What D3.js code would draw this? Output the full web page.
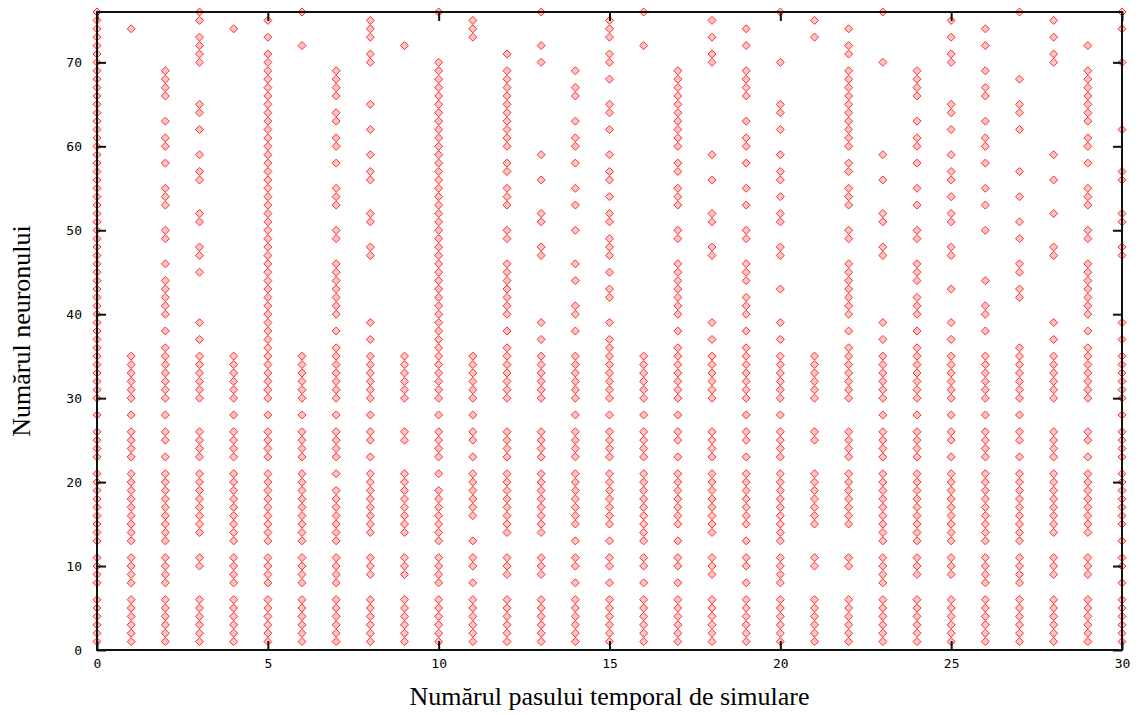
<!DOCTYPE html>
<html>
<head>
<meta charset="utf-8">
<script src="https://cdn.jsdelivr.net/npm/d3@7"></script>
<style>
  html, body { margin: 0; padding: 0; background: #ffffff; }
  svg { display: block; }
</style>
</head>
<body>
<svg id="chart" width="1139" height="715"></svg>
<script>
// ---- data: neurons that fired at each simulation time step ----
const timeSteps = [0,1,2,3,4,5,6,7,8,9,10,11,12,13,14,15,16,17,18,19,20,21,22,23,24,25,26,27,28,29,30];
const step0  = [1,2,3,4,5,6,8,9,10,11,13,14,15,16,17,18,19,20,21,23,24,25,26,28,30,31,32,33,34,35,36,37,38,39,40,41,42,43,44,45,46,47,48,49,50,51,52,53,54,55,56,57,58,59,60,61,62,63,64,65,66,67,68,69,70,71,72,73,74,75,76];
const step1  = [1,2,3,4,5,6,8,9,10,11,13,14,15,16,17,18,19,20,21,23,24,25,26,28,30,31,32,33,34,35,74];
const step2  = [1,2,3,4,5,6,8,9,10,11,13,14,15,16,17,18,19,20,21,23,25,26,28,30,31,32,33,34,35,36,38,40,41,42,43,44,46,49,50,53,54,55,58,60,61,63,66,67,68,69];
const step3  = [1,2,3,4,5,6,10,11,14,15,16,17,18,19,20,21,23,24,25,26,30,31,32,33,34,35,37,39,45,47,48,51,52,56,57,59,62,64,65,70,71,72,73,75,76];
const step4  = [1,2,3,4,5,6,8,9,10,11,13,14,15,16,17,18,19,20,21,23,24,25,26,28,30,31,32,33,34,35,74];
const step5  = [1,2,3,4,5,6,8,9,10,11,13,14,15,16,17,18,19,20,21,23,24,25,26,28,30,31,32,33,34,35,36,37,38,39,40,41,42,43,44,45,46,47,48,49,50,51,52,53,54,55,56,57,58,59,60,61,62,63,64,65,66,67,68,69,70,71,73,75];
const step6  = [1,2,3,4,5,6,8,9,10,11,13,14,15,16,17,18,19,20,21,23,24,25,26,28,30,31,32,33,34,35,72,76];
const step7  = [1,2,3,4,5,6,8,9,10,11,13,14,15,16,17,18,19,21,23,24,25,26,28,30,31,32,33,34,35,36,38,40,41,42,43,44,45,46,49,50,53,54,55,58,60,61,63,64,66,67,68,69];
const step8  = [1,2,3,4,5,6,9,10,11,14,15,16,17,18,19,20,21,23,25,26,28,30,31,32,33,34,35,37,39,47,48,51,52,56,57,59,62,65,70,71,73,74,75];
const step9  = [1,2,3,4,5,6,9,10,11,14,15,16,17,18,19,20,21,25,26,30,31,32,33,34,35,72];
const step10 = [1,2,3,4,5,6,8,9,10,11,13,14,15,16,17,18,19,21,23,24,25,26,28,30,31,32,33,34,35,36,37,38,39,40,41,42,43,44,45,46,47,48,49,50,51,52,53,54,55,56,57,58,59,60,61,62,63,64,65,66,67,68,69,70,76];
const step11 = [1,2,3,4,5,6,8,10,11,13,16,17,18,19,20,21,23,25,26,28,30,31,32,33,34,35,73,74,75];
const step12 = [1,2,3,4,5,6,9,10,11,14,15,16,17,18,19,20,21,23,24,25,26,30,31,32,33,34,35,36,38,40,41,42,43,44,45,46,49,50,53,54,55,57,58,60,61,62,63,64,65,66,67,68,69,71];
const step13 = [1,2,3,4,5,6,9,10,11,14,15,16,17,18,19,20,21,23,24,25,26,30,31,32,33,34,35,37,39,47,48,51,52,56,59,70,72,76];
const step14 = [1,2,3,4,5,6,8,10,11,13,15,16,17,18,19,20,21,23,24,25,26,28,30,31,32,33,34,35,38,40,41,44,46,50,53,55,58,60,61,63,66,67,69];
const step15 = [1,2,3,4,5,6,8,10,11,13,15,16,17,18,19,20,21,23,24,25,26,28,30,31,32,33,34,35,36,37,39,42,43,45,47,48,49,51,52,54,56,57,59,62,64,65,68,70,71,73,74,75];
const step16 = [1,2,3,4,5,6,8,10,11,13,14,15,16,17,18,19,20,21,23,24,25,26,28,30,31,32,33,34,35,72,76];
const step17 = [1,2,3,4,5,6,8,10,11,13,15,16,17,18,19,20,21,23,25,26,28,30,31,32,33,34,35,36,38,40,41,42,43,44,45,46,49,50,53,54,55,57,58,60,61,62,63,64,65,66,67,68,69];
const step18 = [1,2,3,4,5,6,9,10,11,14,15,16,17,18,19,20,21,23,24,25,26,30,31,32,33,34,35,37,39,47,48,51,52,56,59,70,71,73,75];
const step19 = [1,2,3,4,5,6,8,10,11,13,15,16,17,18,19,20,21,23,25,26,28,30,31,32,33,34,35,36,38,40,41,42,44,45,46,49,50,53,55,58,60,61,63,66,67,68,69,72,74];
const step20 = [1,2,3,4,5,6,8,9,10,11,13,14,15,16,17,18,19,20,21,23,24,25,26,28,30,31,32,33,34,35,37,39,43,47,48,51,52,54,56,57,59,62,64,65,70,76];
const step21 = [1,2,3,4,5,6,10,11,15,16,17,18,19,20,21,25,26,30,31,32,33,34,35,73,75];
const step22 = [1,2,3,4,5,6,10,11,15,16,17,18,19,20,21,23,24,25,26,30,31,32,33,34,35,36,38,40,41,42,43,44,45,46,49,50,53,54,55,57,58,60,61,62,63,64,65,66,67,68,69,71,72,74];
const step23 = [1,2,3,4,5,6,8,9,10,11,13,14,15,16,17,18,19,20,21,23,24,25,26,28,30,31,32,33,34,35,37,39,47,48,51,52,56,59,70,76];
const step24 = [1,2,3,4,5,6,9,10,11,13,14,15,16,17,18,19,20,21,23,24,25,26,28,30,31,32,33,34,35,36,38,40,41,42,44,45,46,49,50,53,55,58,60,61,63,66,67,68,69];
const step25 = [1,2,3,4,5,6,9,10,11,13,14,15,16,17,18,19,20,21,23,25,26,28,30,31,32,33,34,35,37,39,43,47,48,51,52,54,56,57,59,62,64,65,70,71,73,75];
const step26 = [1,2,3,4,5,6,8,9,10,11,13,14,15,16,17,18,19,20,21,23,24,25,26,28,30,31,32,33,34,35,38,40,41,44,50,53,55,58,60,61,63,66,67,69,72,74];
const step27 = [1,2,3,4,5,6,8,9,10,11,13,14,15,16,17,18,19,20,21,23,25,26,28,30,31,32,33,34,35,36,42,43,45,46,49,51,54,57,62,64,65,68,76];
const step28 = [1,2,3,4,5,6,9,10,11,14,15,16,17,18,19,20,21,23,24,25,26,30,31,32,33,34,35,37,39,47,48,52,56,59,70,71,73,75];
const step29 = [1,2,3,4,5,6,9,10,11,14,15,16,17,18,19,20,21,23,25,26,30,31,32,33,34,35,36,38,40,41,42,43,44,45,46,49,50,53,54,55,58,60,61,63,64,65,66,67,68,69,72];
const step30 = [1,2,3,4,5,6,8,10,11,13,15,16,17,18,19,20,21,23,24,25,26,28,30,31,32,33,34,35,37,39,47,48,51,52,56,57,62,70,74,76];

const firedNeurons = [step0,step1,step2,step3,step4,step5,step6,step7,step8,step9,step10,
  step11,step12,step13,step14,step15,step16,step17,step18,step19,step20,
  step21,step22,step23,step24,step25,step26,step27,step28,step29,step30];

const xTicks = [0,5,10,15,20,25,30];
const yTicks = [0,10,20,30,40,50,60,70];
const xTitle = "Numărul pasului temporal de simulare";
const yTitle = "Numărul neuronului";

// ---- drawing ----
(function () {
  const svg = d3.select("#chart");
  const mLeft = 97, mRight = 1122, mTop = 12, mBottom = 650;

  const x = d3.scaleLinear().domain([0, 30]).range([mLeft, mRight]);
  const y = d3.scaleLinear().domain([0, 76]).range([mBottom, mTop]);

  const points = [];
  timeSteps.forEach((t, i) => firedNeurons[i].forEach(n => points.push({t, n})));

  const diamond = "M0,-4L4,0L0,4L-4,0Z";
  svg.append("g").selectAll("path")
    .data(points)
    .join("path")
    .attr("d", diamond)
    .attr("transform", d => `translate(${x(d.t)},${y(d.n)})`)
    .attr("fill", "#ffc4c4")
    .attr("stroke", "#ff2e2e")
    .attr("stroke-width", 1);

  const tickFont = "'DejaVu Sans Mono', monospace";

  const styleAxis = g => {
    g.select(".domain").remove();
    g.selectAll(".tick line").attr("stroke", "#111").attr("stroke-width", 2);
    g.selectAll(".tick text").attr("fill", "#000").style("font-family", tickFont).style("font-size", "13px");
  };

  svg.append("g").attr("transform", `translate(0,${mBottom})`)
    .call(d3.axisBottom(x).tickValues(xTicks).tickFormat(d3.format("d")).tickSizeInner(-9).tickSizeOuter(0).tickPadding(9))
    .call(styleAxis);
  svg.append("g").attr("transform", `translate(0,${mTop})`)
    .call(d3.axisTop(x).tickValues(xTicks).tickFormat("").tickSizeInner(-9).tickSizeOuter(0))
    .call(styleAxis);
  svg.append("g").attr("transform", `translate(${mLeft},0)`)
    .call(d3.axisLeft(y).tickValues(yTicks).tickFormat(d3.format("d")).tickSizeInner(-9).tickSizeOuter(0).tickPadding(15))
    .call(styleAxis);
  svg.append("g").attr("transform", `translate(${mRight},0)`)
    .call(d3.axisRight(y).tickValues(yTicks).tickFormat("").tickSizeInner(-9).tickSizeOuter(0))
    .call(styleAxis);

  svg.append("rect")
    .attr("x", mLeft).attr("y", mTop)
    .attr("width", mRight - mLeft).attr("height", mBottom - mTop)
    .attr("fill", "none").attr("stroke", "#111").attr("stroke-width", 2);

  svg.append("text")
    .attr("x", (mLeft + mRight) / 2).attr("y", 705)
    .attr("text-anchor", "middle")
    .style("font-family", "'Liberation Serif', 'Times New Roman', serif")
    .style("font-size", "26px")
    .text(xTitle);

  svg.append("text")
    .attr("transform", `translate(30,${(mTop + mBottom) / 2}) rotate(-90)`)
    .attr("text-anchor", "middle")
    .style("font-family", "'Liberation Serif', 'Times New Roman', serif")
    .style("font-size", "26px")
    .text(yTitle);
})();
</script>
</body>
</html>
